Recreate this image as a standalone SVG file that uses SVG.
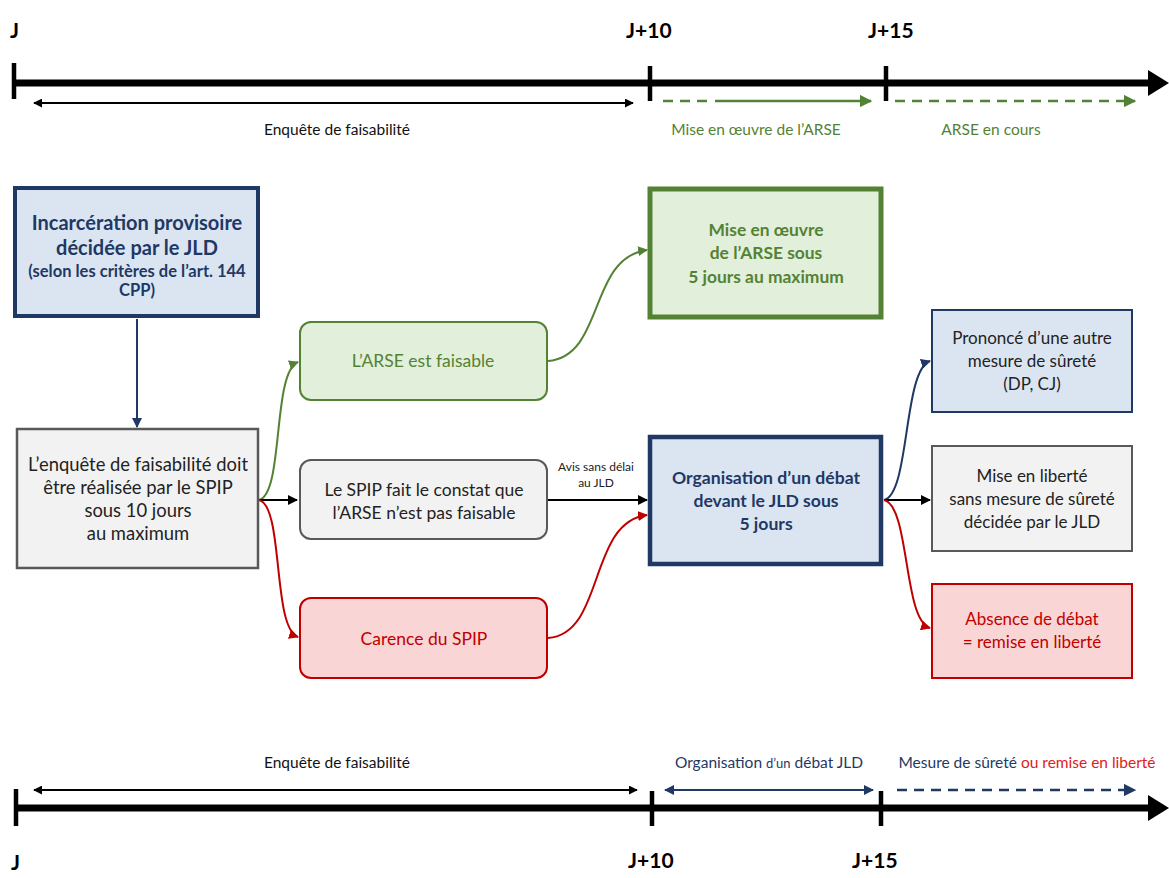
<svg xmlns="http://www.w3.org/2000/svg" width="1169" height="878" viewBox="0 0 1169 878">
<defs>
<style>
text{font-family:Lato,"Open Sans","Liberation Sans",sans-serif;text-anchor:middle}
.tick{font-weight:bold;font-size:21px;fill:#000;text-anchor:start}
.lab{font-size:15.5px;fill:#111}
.g{fill:#548235}.r{fill:#c00000}.n{fill:#1f3864}.k{fill:#222}
.t{font-size:17.5px}
.rt{font-size:17px}
.b{font-weight:bold}
.axis{stroke:#000;stroke-width:7;fill:none}
.tk{stroke:#000;stroke-width:4.5}
</style>
<marker id="ak" viewBox="0 0 10 10" refX="9" refY="5" markerWidth="5" markerHeight="5" orient="auto-start-reverse"><path d="M0,0L10,5L0,10z" fill="#000"/></marker>
<marker id="ag" viewBox="0 0 10 10" refX="9" refY="5" markerWidth="5" markerHeight="5" orient="auto-start-reverse"><path d="M0,0L10,5L0,10z" fill="#548235"/></marker>
<marker id="ar" viewBox="0 0 10 10" refX="9" refY="5" markerWidth="5" markerHeight="5" orient="auto-start-reverse"><path d="M0,0L10,5L0,10z" fill="#c00000"/></marker>
<marker id="an" viewBox="0 0 10 10" refX="9" refY="5" markerWidth="5" markerHeight="5" orient="auto-start-reverse"><path d="M0,0L10,5L0,10z" fill="#1f3864"/></marker>
</defs>
<rect width="1169" height="878" fill="#fff"/>

<g id="timeline-top">
<text class="tick" x="10" y="38">J</text>
<text class="tick" x="626" y="38">J+10</text>
<text class="tick" x="868" y="38">J+15</text>
<line class="axis" x1="13" y1="83" x2="1152" y2="83"/>
<path d="M1148,70L1169,83L1148,96z" fill="#000"/>
<line class="tk" x1="14" y1="63" x2="14" y2="99"/>
<line class="tk" x1="650" y1="66" x2="650" y2="101"/>
<line class="tk" x1="886" y1="66" x2="886" y2="101"/>
<line x1="34" y1="103" x2="633" y2="103" stroke="#000" stroke-width="1.8" marker-start="url(#ak)" marker-end="url(#ak)"/>
<text class="lab" x="337" y="135">Enquête de faisabilité</text>
<line x1="663" y1="101" x2="708" y2="101" stroke="#548235" stroke-width="2.5" stroke-dasharray="10,7"/>
<line x1="715" y1="101" x2="871" y2="101" stroke="#548235" stroke-width="2.5" marker-end="url(#ag)"/>
<text class="lab g" x="756" y="135">Mise en œuvre de l’ARSE</text>
<line x1="895" y1="101" x2="1135" y2="101" stroke="#548235" stroke-width="2.5" stroke-dasharray="10,7" marker-end="url(#ag)"/>
<text class="lab g" x="991" y="135">ARSE en cours</text>
</g>

<g id="connectors" fill="none" stroke-width="2">
<line x1="137" y1="319" x2="137" y2="427" stroke="#1f3864" marker-end="url(#an)"/>
<path d="M259,500 C284,494 272,372 298,362" stroke="#548235" marker-end="url(#ag)"/>
<line x1="259" y1="500" x2="297" y2="500" stroke="#000" marker-end="url(#ak)"/>
<path d="M259,500 C284,506 272,628 298,637" stroke="#c00000" marker-end="url(#ar)"/>
<path d="M548,361 C605,356 588,258 647,250" stroke="#548235" marker-end="url(#ag)"/>
<line x1="548" y1="500" x2="647" y2="500" stroke="#000" marker-end="url(#ak)"/>
<path d="M548,638 C605,634 588,522 647,515" stroke="#c00000" marker-end="url(#ar)"/>
<path d="M884,500 C910,494 903,370 930,361" stroke="#1f3864" marker-end="url(#an)"/>
<line x1="884" y1="500" x2="930" y2="500" stroke="#000" marker-end="url(#ak)"/>
<path d="M884,500 C910,506 903,620 930,628" stroke="#c00000" marker-end="url(#ar)"/>
</g>
<text x="596" y="471" font-size="12" fill="#222">Avis sans délai</text>
<text x="596" y="487" font-size="12" fill="#222">au JLD</text>

<g id="n-incarceration">
<rect x="15" y="188" width="243" height="128" fill="#dbe5f2" stroke="#1f3864" stroke-width="4"/>
<text class="n b" x="137" y="230" font-size="20">Incarcération provisoire</text>
<text class="n b" x="137" y="255" font-size="20">décidée par le JLD</text>
<text class="n b" x="137" y="277" font-size="16.5">(selon les critères de l’art. 144</text>
<text class="n b" x="137" y="296" font-size="16.5">CPP)</text>
</g>

<g id="n-enquete">
<rect x="17" y="429" width="241" height="139" fill="#f2f2f2" stroke="#595959" stroke-width="2.5"/>
<text class="k" x="138" y="471" font-size="18.4">L’enquête de faisabilité doit</text>
<text class="k" x="138" y="494" font-size="18.4">être réalisée par le SPIP</text>
<text class="k" x="138" y="517" font-size="18.4">sous 10 jours</text>
<text class="k" x="138" y="540" font-size="18.4">au maximum</text>
</g>

<g id="n-faisable">
<rect x="300" y="322" width="247" height="78" rx="11" fill="#e2efda" stroke="#548235" stroke-width="2"/>
<text class="g t" x="423" y="367">L’ARSE est faisable</text>
</g>

<g id="n-constat">
<rect x="300" y="460" width="247" height="79" rx="11" fill="#f2f2f2" stroke="#595959" stroke-width="2"/>
<text class="k t" x="424" y="496">Le SPIP fait le constat que</text>
<text class="k t" x="424" y="519">l’ARSE n’est pas faisable</text>
</g>

<g id="n-carence">
<rect x="300" y="598" width="247" height="80" rx="11" fill="#f9d5d5" stroke="#c00000" stroke-width="2"/>
<text class="r t" x="424" y="645">Carence du SPIP</text>
</g>

<g id="n-miseoeuvre">
<rect x="650" y="189" width="231" height="128" fill="#e2efda" stroke="#548235" stroke-width="5"/>
<text class="g b" x="766" y="236" font-size="17.4">Mise en œuvre</text>
<text class="g b" x="766" y="259" font-size="17.4">de l’ARSE sous</text>
<text class="g b" x="766" y="283" font-size="17.4">5 jours au maximum</text>
</g>

<g id="n-debat">
<rect x="650" y="437" width="231" height="127" fill="#dbe5f2" stroke="#1f3864" stroke-width="4.5"/>
<text class="n b" x="766" y="484" font-size="17.6">Organisation d’un débat</text>
<text class="n b" x="766" y="507" font-size="17.6">devant le JLD sous</text>
<text class="n b" x="766" y="530" font-size="17.6">5 jours</text>
</g>

<g id="n-prononce">
<rect x="932" y="310" width="200" height="102" fill="#dbe5f2" stroke="#1f3864" stroke-width="2"/>
<text class="k rt" x="1032" y="344">Prononcé d’une autre</text>
<text class="k rt" x="1032" y="367">mesure de sûreté</text>
<text class="k rt" x="1032" y="390">(DP, CJ)</text>
</g>

<g id="n-liberte">
<rect x="932" y="446" width="200" height="105" fill="#f2f2f2" stroke="#595959" stroke-width="2"/>
<text class="k rt" x="1032" y="482">Mise en liberté</text>
<text class="k rt" x="1032" y="505">sans mesure de sûreté</text>
<text class="k rt" x="1032" y="528">décidée par le JLD</text>
</g>

<g id="n-absence">
<rect x="932" y="584" width="200" height="94" fill="#f9d5d5" stroke="#c00000" stroke-width="2"/>
<text class="r rt" x="1032" y="625">Absence de débat</text>
<text class="r rt" x="1032" y="648">= remise en liberté</text>
</g>

<g id="timeline-bottom">
<text class="lab" x="337" y="768">Enquête de faisabilité</text>
<line x1="34" y1="790" x2="637" y2="790" stroke="#000" stroke-width="1.8" marker-start="url(#ak)" marker-end="url(#ak)"/>
<line class="axis" x1="15" y1="808" x2="1152" y2="808"/>
<path d="M1148,795L1169,808L1148,821z" fill="#000"/>
<line class="tk" x1="16" y1="789" x2="16" y2="826"/>
<line class="tk" x1="652" y1="791" x2="652" y2="826"/>
<line class="tk" x1="881" y1="791" x2="881" y2="826"/>
<text class="tick" x="11" y="870">J</text>
<text class="tick" x="628" y="868">J+10</text>
<text class="tick" x="852" y="868">J+15</text>
<text class="lab n" x="769" y="768">Organisation <tspan font-size="13">d’un</tspan> débat JLD</text>
<line x1="665" y1="790" x2="873" y2="790" stroke="#1f3864" stroke-width="2" marker-start="url(#an)" marker-end="url(#an)"/>
<text class="lab" x="1027" y="768"><tspan fill="#1f3864">Mesure de sûreté</tspan> <tspan fill="#e02020">ou remise en liberté</tspan></text>
<line x1="897" y1="790" x2="1135" y2="790" stroke="#1f3864" stroke-width="2.5" stroke-dasharray="10,7" marker-end="url(#an)"/>
</g>
</svg>
